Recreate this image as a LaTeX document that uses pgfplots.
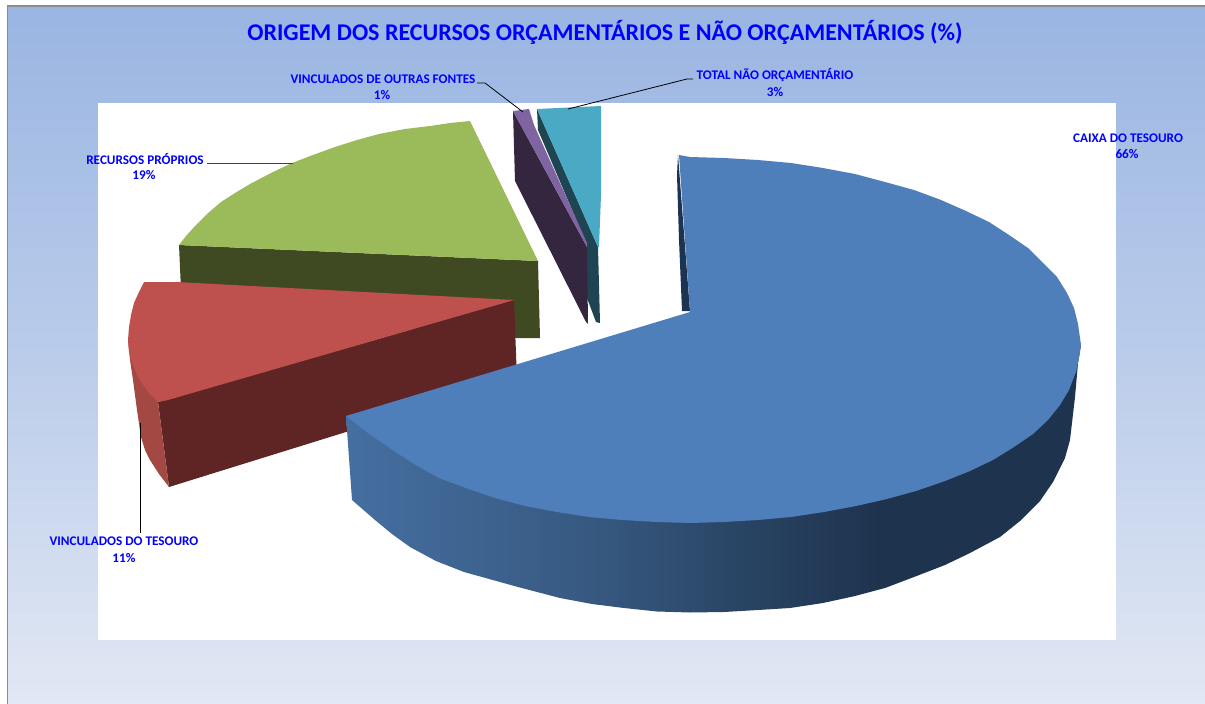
\documentclass[border=0pt]{standalone}
\usepackage{fontspec}
\setmainfont{Carlito}
\usepackage{pgfplots}
\pgfplotsset{compat=1.18}
\definecolor{txtblue}{HTML}{0000FF}
\definecolor{bluetop}{HTML}{4F7FBB}
\definecolor{greentop}{HTML}{9BBA59}
\definecolor{greenwall}{HTML}{404A22}
\definecolor{redtop}{HTML}{BE504D}
\definecolor{redwall}{HTML}{5E2524}
\definecolor{redside}{HTML}{A44844}
\definecolor{purptop}{HTML}{8064A2}
\definecolor{purpwall}{HTML}{35263F}
\definecolor{tealtop}{HTML}{4AA9C4}
\definecolor{tealwall}{HTML}{1E4551}
\definecolor{bluedark}{HTML}{1C3451}
\definecolor{bgA}{HTML}{9AB5E2}
\definecolor{bgB}{HTML}{BACCEA}
\definecolor{bgC}{HTML}{E2E8F4}
\definecolor{wA}{HTML}{456FA1}
\definecolor{wB}{HTML}{36587F}
\definecolor{wC}{HTML}{2A4666}
\definecolor{wD}{HTML}{1E334E}
\pgfdeclareverticalshading{bgshade}{100bp}{
  color(0bp)=(bgC); color(25bp)=(bgC); color(50bp)=(bgB); color(75bp)=(bgA); color(100bp)=(bgA)}
\pgfdeclarehorizontalshading{wallshade}{100bp}{
  color(0bp)=(wA); color(25bp)=(wA); color(42.3bp)=(wB); color(51bp)=(wC); color(61.3bp)=(wD); color(75bp)=(wD); color(100bp)=(wD)}
\newcommand{\lbl}[1]{\fontsize{13.2}{15}\selectfont\bfseries\color{txtblue}#1}
\begin{document}
\begin{tikzpicture}
\begin{axis}[
  scale only axis, width=1205pt, height=704pt,
  xmin=0, xmax=1205, ymin=0, ymax=704, y dir=reverse,
  hide axis, clip=true, no markers,
  every axis plot/.append style={forget plot}]
% page
\addplot[fill=white, draw=none] coordinates {(0,0)(1205,0)(1205,704)(0,704)} -- cycle;
% background
\addplot[shading=bgshade, draw=none] coordinates {(7,6)(1205,6)(1205,704)(7,704)} -- cycle;
\addplot[draw=black!45, line width=1.5pt] coordinates {(7.5,704)(7.5,6)(1205,6)};
% plot area
\addplot[fill=white, draw=none] coordinates {(98,103)(1116,103)(1116,640)(98,640)} -- cycle;
% green slice
\addplot[fill=greenwall, draw=none] coordinates {(179,245)(538,261)(540,338)(516,338)(300,320)(181,290)} -- cycle;
\addplot[fill=greentop, draw=none] coordinates {(470,121)(450,123)(430,126)(405,129)(379,134)(357,140)(335,147)(313,155)(292,163)(271,173)(250,184)(235,193)(221,202)(207,214)(195,226)(186,236)(179,245)(538,261)} -- cycle;
% red slice
\addplot[fill=redwall, draw=none] coordinates {(158,402)(514,300)(517,380)(346,432)(169,487)} -- cycle;
\addplot[fill=redside, draw=none] coordinates {(128,340)(130,360)(133,380)(137,410)(141,437)(145,450)(150,460)(159,474)(169,487)(158,402)} -- cycle;
\addplot[fill=redtop, draw=none] coordinates {(144,282)(177,282)(514,300)(168,400)(158,402)(150,394)(143,385)(137,375)(132,363)(129,352)(128,340)(129,327)(131,315)(134,303)(139,292)} -- cycle;
% teal slice
\addplot[fill=tealwall, draw=none] coordinates {(537,109)(598,247)(600,323)(596,322)(587,298)(587,245)(538,130)} -- cycle;
\addplot[fill=tealtop, draw=none] coordinates {(537,109)(601,106)(601,195)(599,247)(598,247)} -- cycle;
% purple slice
\addplot[fill=purpwall, draw=none] coordinates {(513,111)(587,247)(588,324)(586,322)(515,181)} -- cycle;
\addplot[fill=purptop, draw=none] coordinates {(513,111)(529,109)(534,125)(587,243)(587,247)} -- cycle;
% blue slice
\addplot[fill=bluedark, draw=none] coordinates {(678,155)(677,175)(679,240)(682,311)(690,311)} -- cycle;
\addplot[shading=wallshade, draw=none] coordinates {(346,416)(1081,345)(1078,363)(1075,397)(1070,440)(1065,458)(1053,482)(1040,501)(1020,521)(1000,537)(970,553)(945,565)(914,577)(885,588)(855,596)(823,603)(790,608)(758,610)(724,612)(690,612.5)(657,611.5)(624,608)(592,604)(560,598)(518,587)(464,572)(436,561)(410,547)(392,534)(375,520)(352,500)} -- cycle;
\addplot[fill=bluetop, draw=none] coordinates {(679,155)(690,157)(724,158)(758,160)(791,163)(823,168)(855,174)(885,182)(914,190)(941,200)(966,211)(989,222)(1009,235)(1028,248)(1043,263)(1057,277)(1067,293)(1074,308)(1078,324)(1081,345)(1079,358)(1076,372)(1069,390)(1060,405)(1048,420)(1033,434)(1014,447)(993,460)(970,471)(945,481)(916,491)(887,499)(856,506)(824,512)(791,517)(758,520)(724,522)(690,523)(656,522)(622,520)(589,517)(557,512)(525,506)(495,498)(466,488)(439,478)(414,464)(391,449)(368,433)(346,416)(690,312)} -- cycle;
% leader lines
\addplot[black, line width=0.8pt] coordinates {(477,83)(485,83)(523,112)};
\addplot[black, line width=0.8pt] coordinates {(693,79)(687,79)(568,109)};
\addplot[black!75, line width=1pt] coordinates {(207,163)(293,163)};
\addplot[black, line width=1pt] coordinates {(140,423)(140,533)};
% texts
\node[font=\fontsize{24}{28}\selectfont\bfseries, text=txtblue] at (605,32) {ORIGEM DOS RECURSOS ORÇAMENTÁRIOS E NÃO ORÇAMENTÁRIOS (\%)};
\node at (383,79) {\lbl{VINCULADOS DE OUTRAS FONTES}};
\node at (382,95) {\lbl{1\%}};
\node at (775,75) {\lbl{TOTAL NÃO ORÇAMENTÁRIO}};
\node at (775,92) {\lbl{3\%}};
\node at (145,159) {\lbl{RECURSOS PRÓPRIOS}};
\node at (144,175) {\lbl{19\%}};
\node at (1128,138) {\lbl{CAIXA DO TESOURO}};
\node at (1127,154) {\lbl{66\%}};
\node at (124,541) {\lbl{VINCULADOS DO TESOURO}};
\node at (124,558) {\lbl{11\%}};
\end{axis}
\end{tikzpicture}
\end{document}
